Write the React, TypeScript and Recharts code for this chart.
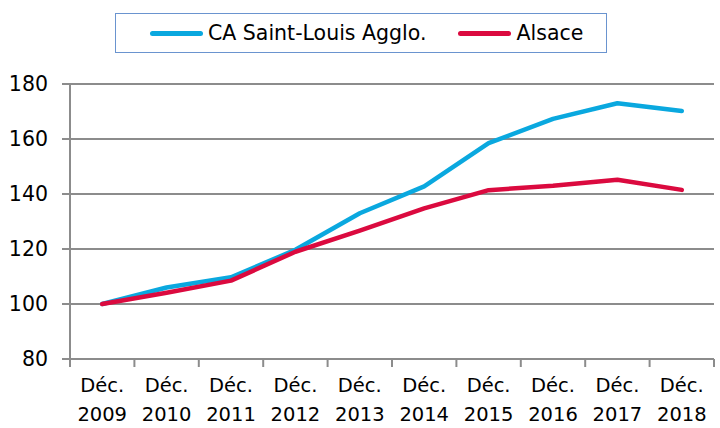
import React from 'react';
import { LineChart, Line, XAxis, YAxis, CartesianGrid } from 'recharts';

const years = ['2009', '2010', '2011', '2012', '2013', '2014', '2015', '2016', '2017', '2018'];
const saintLouis = [100, 106, 109.7, 119.7, 133, 142.8, 158.5, 167.3, 173, 170.2];
const alsace = [100, 104.1, 108.5, 119, 126.7, 134.8, 141.4, 143, 145.2, 141.5];
const yTicks = [80, 100, 120, 140, 160, 180];

const SERIES = [
  { key: 'saintLouis', name: 'CA Saint-Louis Agglo.', color: '#0aa8df' },
  { key: 'alsace', name: 'Alsace', color: '#db0a3f' },
];

const data = years.map((y, i) => ({ label: `Déc. ${y}`, year: y, saintLouis: saintLouis[i], alsace: alsace[i] }));

const FONT = '"DejaVu Sans", sans-serif';
const GRID = '#8c8c8c';
const W = 720;
const H = 428;
const LEFT = 70;
const RIGHT = 6;
const PLOT_W = W - LEFT - RIGHT;
const HALF = PLOT_W / years.length / 2;

// category label on two lines + boundary tick marks like Excel
function XTick({ x, y, index }: any) {
  const year = years[index];
  const top = y - 8;
  return (
    <g>
      <line x1={x - HALF} x2={x - HALF} y1={top} y2={top + 8} stroke={GRID} strokeWidth={2} />
      {index === years.length - 1 && (
        <line x1={x + HALF} x2={x + HALF} y1={top} y2={top + 8} stroke={GRID} strokeWidth={2} />
      )}
      <text x={x} y={top + 33} textAnchor="middle" fill="#000" fontSize={19.5} fontFamily={FONT}>
        Déc.
      </text>
      <text x={x} y={top + 62} textAnchor="middle" fill="#000" fontSize={19.5} fontFamily={FONT}>
        {year}
      </text>
    </g>
  );
}

function LegendBox() {
  return (
    <div
      style={{
        position: 'absolute',
        left: 115,
        top: 13,
        width: 492,
        height: 40,
        border: '1.5px solid #6a94cf',
        display: 'flex',
        alignItems: 'center',
        fontFamily: FONT,
        fontSize: 20.5,
        color: '#000',
        boxSizing: 'border-box',
      }}
    >
      {SERIES.map((s, i) => (
        <div key={s.key} style={{ display: 'flex', alignItems: 'center', marginLeft: i === 0 ? 34 : 32 }}>
          <div style={{ width: 53, height: 5, borderRadius: 3, background: s.color, marginRight: 5 }} />
          <span>{s.name}</span>
        </div>
      ))}
    </div>
  );
}

export default function App() {
  return (
    <div style={{ position: 'absolute', left: 0, top: 0, width: W, height: H, background: '#fff' }}>
      <LineChart width={W} height={H} data={data} margin={{ top: 84, right: RIGHT, bottom: 0, left: 0 }}>
        <CartesianGrid vertical={false} stroke={GRID} strokeWidth={2} />
        <XAxis
          dataKey="label"
          height={69}
          padding={{ left: HALF, right: HALF }}
          axisLine={{ stroke: GRID, strokeWidth: 2 }}
          tickLine={false}
          interval={0}
          tick={<XTick />}
        />
        <YAxis
          domain={[80, 180]}
          ticks={yTicks}
          width={LEFT}
          axisLine={{ stroke: GRID, strokeWidth: 2 }}
          tickLine={{ stroke: GRID, strokeWidth: 2 }}
          tickSize={8}
          tickMargin={14}
          tick={{ fill: '#000', fontSize: 20.5, fontFamily: FONT }}
        />
        {SERIES.map((s) => (
          <Line
            key={s.key}
            dataKey={s.key}
            name={s.name}
            stroke={s.color}
            strokeWidth={4.5}
            strokeLinecap="round"
            strokeLinejoin="round"
            dot={false}
            activeDot={false}
            isAnimationActive={false}
          />
        ))}
      </LineChart>
      <LegendBox />
    </div>
  );
}
